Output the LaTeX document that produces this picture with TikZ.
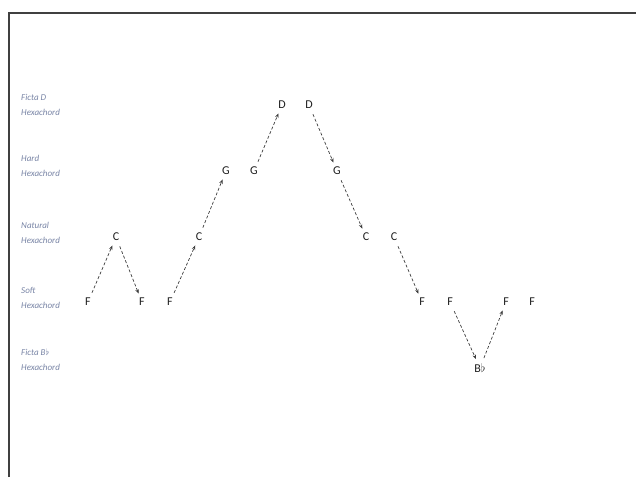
\documentclass[tikz,border=0pt]{standalone}
\usepackage{fontspec}
\setmainfont{Carlito}
\usepackage{tikz}
\usetikzlibrary{arrows.meta}
\usepackage{xcolor}
\definecolor{labelgray}{RGB}{120,132,165}
\definecolor{notegray}{RGB}{30,30,30}
\definecolor{arrowgray}{RGB}{60,60,60}

\begin{document}
\begin{tikzpicture}[x=1pt,y=-1pt,
  note/.style={text=notegray, font=\fontsize{12}{12}\selectfont, inner sep=1.5pt},
  hexlabel/.style={text=labelgray, font=\fontsize{9}{15}\selectfont\itshape, align=left, anchor=west, inner sep=0pt},
  move/.style={-{Stealth[length=4.5pt,width=3.5pt]}, arrowgray, line width=0.7pt, densely dashed, shorten >=3pt, shorten <=4pt}]
\useasboundingbox (0,0) rectangle (636,477);
% frame
\draw[line width=2pt, black!75] (9,477) -- (9,13) -- (636,13);

% hexachord rows
\node[hexlabel] (lficd) at (21,105) {Ficta D\\Hexachord};
\node[hexlabel] (lhard) at (21,166) {Hard\\Hexachord};
\node[hexlabel] (lnat) at (21,233) {Natural\\Hexachord};
\node[hexlabel] (lsoft) at (21,298) {Soft\\Hexachord};
\node[hexlabel] (lficb) at (21,360) {Ficta B$\flat$\\Hexachord};

% notes
\node[note] (f1) at (88,302) {F};
\node[note] (c1) at (116,237) {C};
\node[note] (f2) at (142,302) {F};
\node[note] (f3) at (170,302) {F};
\node[note] (c2) at (199,237) {C};
\node[note] (g1) at (226,171) {G};
\node[note] (g2) at (254,171) {G};
\node[note] (d1) at (282,105) {D};
\node[note] (d2) at (309,105) {D};
\node[note] (g3) at (337,171) {G};
\node[note] (c3) at (366,237) {C};
\node[note] (c4) at (394,237) {C};
\node[note] (f4) at (422,302) {F};
\node[note] (f5) at (450,302) {F};
\node[note] (bb) at (480,368) {B$\flat$};
\node[note] (f6) at (506,302) {F};
\node[note] (f7) at (532,302) {F};

% mutations
\draw[move] (f1) -- (c1);
\draw[move] (c1) -- (f2);
\draw[move] (f3) -- (c2);
\draw[move] (c2) -- (g1);
\draw[move] (g2) -- (d1);
\draw[move] (d2) -- (g3);
\draw[move] (g3) -- (c3);
\draw[move] (c4) -- (f4);
\draw[move] (f5) -- (bb);
\draw[move] (bb) -- (f6);
\end{tikzpicture}
\end{document}
